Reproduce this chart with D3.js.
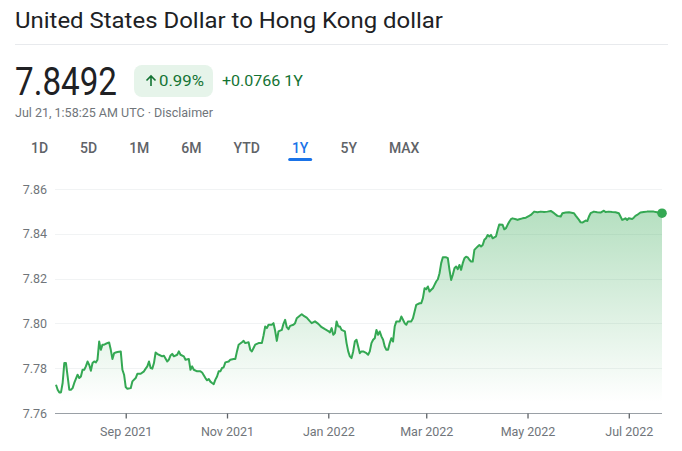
<!DOCTYPE html>
<html>
<head>
<meta charset="utf-8">
<script src="https://cdn.jsdelivr.net/npm/d3@7"></script>
<style>
  body { margin: 0; background: #fff; }
  text { font-family: Roboto, "Noto Sans", Arial, sans-serif; }
</style>
</head>
<body>
<div id="graph"></div>
<script>
!(function(){
    "use strict"

    var width = 682;
    var height = 451;

    // header texts
    var title = "United States Dollar to Hong Kong dollar";
    var price = "7.8492";
    var changePct = "0.99%";
    var changeAbs = "+0.0766 1Y";
    var stamp = "Jul 21, 1:58:25 AM UTC · Disclaimer";
    var tabs = ["1D", "5D", "1M", "6M", "YTD", "1Y", "5Y", "MAX"];
    var activeTab = "1Y";

    var yTicks = [7.76, 7.78, 7.80, 7.82, 7.84, 7.86];

    // USD/HKD
    var dates = [
        "2021-07-21","2021-07-22","2021-07-23","2021-07-24","2021-07-25","2021-07-26","2021-07-27","2021-07-28","2021-07-29","2021-07-30",
        "2021-07-31","2021-08-01","2021-08-03","2021-08-04","2021-08-05","2021-08-06","2021-08-07","2021-08-08","2021-08-09","2021-08-10",
        "2021-08-11","2021-08-12","2021-08-13","2021-08-14","2021-08-15","2021-08-16","2021-08-17","2021-08-18","2021-08-19","2021-08-20",
        "2021-08-22","2021-08-23","2021-08-24","2021-08-25","2021-08-26","2021-08-27","2021-08-29","2021-08-30","2021-08-31","2021-09-01",
        "2021-09-02","2021-09-04","2021-09-05","2021-09-07","2021-09-08","2021-09-10","2021-09-12","2021-09-13","2021-09-14","2021-09-15",
        "2021-09-16","2021-09-17","2021-09-18","2021-09-19","2021-09-20","2021-09-21","2021-09-23","2021-09-24","2021-09-26","2021-09-27",
        "2021-09-28","2021-09-29","2021-09-30","2021-10-02","2021-10-03","2021-10-04","2021-10-06","2021-10-07","2021-10-09","2021-10-10",
        "2021-10-11","2021-10-12","2021-10-14","2021-10-16","2021-10-17","2021-10-19","2021-10-20","2021-10-21","2021-10-22","2021-10-23",
        "2021-10-24","2021-10-25","2021-10-26","2021-10-27","2021-10-28","2021-10-29","2021-10-30","2021-10-31","2021-11-02","2021-11-03",
        "2021-11-05","2021-11-06","2021-11-07","2021-11-08","2021-11-10","2021-11-11","2021-11-12","2021-11-14","2021-11-15","2021-11-16",
        "2021-11-17","2021-11-18","2021-11-20","2021-11-22","2021-11-23","2021-11-24","2021-11-25","2021-11-26","2021-11-28","2021-11-29",
        "2021-11-30","2021-12-01","2021-12-02","2021-12-04","2021-12-05","2021-12-06","2021-12-07","2021-12-08","2021-12-09","2021-12-11",
        "2021-12-12","2021-12-13","2021-12-15","2021-12-16","2021-12-17","2021-12-19","2021-12-21","2021-12-22","2021-12-24","2021-12-26",
        "2021-12-28","2021-12-30","2022-01-01","2022-01-02","2022-01-03","2022-01-04","2022-01-05","2022-01-06","2022-01-07","2022-01-08",
        "2022-01-09","2022-01-11","2022-01-12","2022-01-13","2022-01-14","2022-01-15","2022-01-16","2022-01-17","2022-01-18","2022-01-19",
        "2022-01-20","2022-01-21","2022-01-22","2022-01-24","2022-01-25","2022-01-26","2022-01-27","2022-01-28","2022-01-29","2022-01-30",
        "2022-01-31","2022-02-01","2022-02-02","2022-02-03","2022-02-04","2022-02-05","2022-02-06","2022-02-07","2022-02-08","2022-02-09",
        "2022-02-10","2022-02-11","2022-02-13","2022-02-14","2022-02-15","2022-02-16","2022-02-17","2022-02-18","2022-02-20","2022-02-21",
        "2022-02-22","2022-02-23","2022-02-25","2022-02-26","2022-02-27","2022-02-28","2022-03-01","2022-03-02","2022-03-03","2022-03-04",
        "2022-03-05","2022-03-06","2022-03-07","2022-03-08","2022-03-09","2022-03-10","2022-03-11","2022-03-13","2022-03-14","2022-03-15",
        "2022-03-16","2022-03-17","2022-03-18","2022-03-19","2022-03-20","2022-03-21","2022-03-22","2022-03-23","2022-03-24","2022-03-25",
        "2022-03-26","2022-03-27","2022-03-28","2022-03-29","2022-03-30","2022-03-31","2022-04-01","2022-04-02","2022-04-03","2022-04-04",
        "2022-04-05","2022-04-06","2022-04-07","2022-04-08","2022-04-09","2022-04-10","2022-04-12","2022-04-13","2022-04-14","2022-04-16",
        "2022-04-17","2022-04-18","2022-04-19","2022-04-20","2022-04-21","2022-04-22","2022-04-24","2022-04-25","2022-04-26","2022-04-28",
        "2022-04-30","2022-05-02","2022-05-03","2022-05-05","2022-05-07","2022-05-09","2022-05-11","2022-05-13","2022-05-15","2022-05-17",
        "2022-05-19","2022-05-21","2022-05-22","2022-05-24","2022-05-26","2022-05-29","2022-05-30","2022-06-01","2022-06-02","2022-06-03",
        "2022-06-05","2022-06-06","2022-06-07","2022-06-08","2022-06-10","2022-06-12","2022-06-14","2022-06-16","2022-06-17","2022-06-19",
        "2022-06-21","2022-06-23","2022-06-25","2022-06-26","2022-06-27","2022-06-28","2022-06-29","2022-06-30","2022-07-01","2022-07-03",
        "2022-07-04","2022-07-05","2022-07-06","2022-07-08","2022-07-09","2022-07-10","2022-07-12","2022-07-14","2022-07-16","2022-07-18",
        "2022-07-21"
    ];
    var rates = [
        7.7726,7.7704,7.7692,7.7692,7.7734,7.7823,7.7823,7.7763,7.7704,7.7704,
        7.7711,7.7734,7.7771,7.7756,7.7763,7.7793,7.7793,7.7808,7.7830,7.7815,
        7.7789,7.7823,7.7830,7.7826,7.7838,7.7919,7.7882,7.7905,7.7905,7.7909,
        7.7915,7.7882,7.7841,7.7867,7.7870,7.7872,7.7875,7.7793,7.7771,7.7716,
        7.7708,7.7711,7.7741,7.7756,7.7775,7.7775,7.7786,7.7798,7.7808,7.7830,
        7.7801,7.7798,7.7823,7.7870,7.7864,7.7860,7.7853,7.7856,7.7830,7.7838,
        7.7857,7.7864,7.7853,7.7860,7.7875,7.7860,7.7853,7.7838,7.7841,7.7793,
        7.7808,7.7793,7.7786,7.7786,7.7781,7.7756,7.7746,7.7752,7.7740,7.7734,
        7.7729,7.7749,7.7763,7.7786,7.7786,7.7801,7.7804,7.7826,7.7830,7.7838,
        7.7841,7.7841,7.7875,7.7905,7.7916,7.7922,7.7912,7.7916,7.7882,7.7875,
        7.7890,7.7905,7.7912,7.7912,7.7946,7.7986,7.7979,7.7994,7.7994,7.8001,
        7.7967,7.7922,7.7964,7.7971,7.7998,7.8016,7.7983,7.7974,7.7989,7.7994,
        7.8001,7.8023,7.8035,7.8041,7.8035,7.8026,7.8009,7.8001,7.8009,7.7998,
        7.7983,7.7974,7.7966,7.7960,7.7979,7.7949,7.7957,7.8009,7.7986,7.7986,
        7.7971,7.7964,7.7912,7.7875,7.7853,7.7845,7.7875,7.7919,7.7927,7.7897,
        7.7867,7.7875,7.7875,7.7867,7.7860,7.7875,7.7912,7.7927,7.7934,7.7971,
        7.7949,7.7964,7.7942,7.7927,7.7897,7.7882,7.7882,7.7912,7.7934,7.7919,
        7.7986,7.8009,7.8009,7.8031,7.8016,7.8001,7.7994,7.8009,7.8009,7.8023,
        7.8053,7.8083,7.8090,7.8090,7.8113,7.8157,7.8153,7.8165,7.8142,7.8150,
        7.8157,7.8172,7.8187,7.8197,7.8224,7.8269,7.8295,7.8295,7.8291,7.8239,
        7.8194,7.8217,7.8246,7.8254,7.8242,7.8261,7.8239,7.8269,7.8291,7.8298,
        7.8295,7.8284,7.8276,7.8276,7.8328,7.8336,7.8343,7.8350,7.8343,7.8350,
        7.8373,7.8380,7.8395,7.8388,7.8395,7.8380,7.8388,7.8417,7.8442,7.8440,
        7.8420,7.8425,7.8440,7.8454,7.8465,7.8469,7.8465,7.8462,7.8465,7.8469,
        7.8472,7.8480,7.8484,7.8499,7.8496,7.8499,7.8497,7.8499,7.8502,7.8492,
        7.8480,7.8477,7.8492,7.8495,7.8496,7.8492,7.8481,7.8462,7.8451,7.8450,
        7.8459,7.8457,7.8477,7.8492,7.8499,7.8496,7.8495,7.8503,7.8497,7.8499,
        7.8497,7.8496,7.8492,7.8477,7.8462,7.8465,7.8469,7.8462,7.8469,7.8466,
        7.8472,7.8480,7.8484,7.8495,7.8496,7.8497,7.8499,7.8499,7.8499,7.8496,
        7.8492
    ];

    var parse = d3.timeParse("%Y-%m-%d");
    var data = dates.map(function(d, i){ return { date: parse(d), value: rates[i] }; });

    var svg = d3.select("#graph").append("svg")
        .attr("width", width)
        .attr("height", height)
        .style("display", "block");

    // ---- header ----
    svg.append("text")
        .attr("x", 15).attr("y", 28)
        .attr("font-size", 22)
        .attr("fill", "#202124")
        .attr("textLength", 428).attr("lengthAdjust", "spacingAndGlyphs")
        .text(title);

    svg.append("line")
        .attr("x1", 15).attr("x2", 668)
        .attr("y1", 44.5).attr("y2", 44.5)
        .attr("stroke", "#e8eaed");

    svg.append("text")
        .attr("x", 15).attr("y", 95)
        .attr("font-size", 38)
        .attr("fill", "#202124")
        .attr("textLength", 102).attr("lengthAdjust", "spacingAndGlyphs")
        .text(price);

    svg.append("rect")
        .attr("x", 134).attr("y", 65)
        .attr("width", 79).attr("height", 32)
        .attr("rx", 8)
        .attr("fill", "#e6f4ea");

    // up arrow
    svg.append("path")
        .attr("d", "M151,86 V76 M146.5,80.5 L151,76 L155.5,80.5")
        .attr("fill", "none")
        .attr("stroke", "#137333")
        .attr("stroke-width", 1.6);

    svg.append("text")
        .attr("x", 159).attr("y", 86)
        .attr("font-size", 15)
        .attr("fill", "#137333")
        .attr("textLength", 45).attr("lengthAdjust", "spacingAndGlyphs")
        .text(changePct);

    svg.append("text")
        .attr("x", 222).attr("y", 86)
        .attr("font-size", 15)
        .attr("fill", "#137333")
        .attr("textLength", 81).attr("lengthAdjust", "spacingAndGlyphs")
        .text(changeAbs);

    svg.append("text")
        .attr("x", 15).attr("y", 117)
        .attr("font-size", 12.5)
        .attr("fill", "#70757a")
        .attr("textLength", 198).attr("lengthAdjust", "spacingAndGlyphs")
        .text(stamp);

    // tabs: each one is its text width plus a fixed padding
    var tabPad = 32;
    var tabText = svg.append("g").selectAll("text")
        .data(tabs)
        .enter().append("text")
        .attr("y", 153)
        .attr("text-anchor", "middle")
        .attr("font-size", 14)
        .attr("font-weight", 500)
        .attr("fill", function(d){ return d === activeTab ? "#1a73e8" : "#5f6368"; })
        .text(function(d){ return d; });
    var cursor = 39.5, prevW = null, tabCenters = {};
    tabText.each(function(d){
        var w = this.getComputedTextLength();
        if (prevW !== null) cursor += (prevW + w) / 2 + tabPad;
        tabCenters[d] = cursor;
        prevW = w;
    });
    tabText.attr("x", function(d){ return tabCenters[d]; });

    svg.append("rect")
        .attr("x", tabCenters[activeTab] - 12).attr("y", 158)
        .attr("width", 24).attr("height", 3)
        .attr("rx", 1.5)
        .attr("fill", "#1a73e8");

    // ---- chart ----
    var x = d3.scaleTime()
        .domain([parse("2021-07-21"), parse("2022-07-21")])
        .range([56, 662]);
    var y = d3.scaleLinear()
        .domain([7.76, 7.86])
        .range([413, 189]);

    var defs = svg.append("defs");
    var grad = defs.append("linearGradient")
        .attr("id", "fade")
        .attr("gradientUnits", "userSpaceOnUse")
        .attr("x1", 0).attr("x2", 0)
        .attr("y1", y(7.85)).attr("y2", y(7.765));
    grad.append("stop").attr("offset", 0).attr("stop-color", "#34a853").attr("stop-opacity", 0.36);
    grad.append("stop").attr("offset", 1).attr("stop-color", "#34a853").attr("stop-opacity", 0);

    // gridlines
    svg.append("g")
        .selectAll("line")
        .data(yTicks.slice(1))
        .enter().append("line")
        .attr("x1", 55).attr("x2", 662)
        .attr("y1", function(d){ return Math.round(y(d)) + 0.5; })
        .attr("y2", function(d){ return Math.round(y(d)) + 0.5; })
        .attr("stroke", "#f1f3f4");

    // y labels
    var yAxis = svg.append("g")
        .attr("transform", "translate(47,0)")
        .call(d3.axisLeft(y).tickValues(yTicks).tickFormat(d3.format(".2f")).tickSize(0).tickPadding(0));
    yAxis.select(".domain").remove();
    yAxis.selectAll("text")
        .attr("font-size", 12.5)
        .attr("font-family", "Roboto, Arial, sans-serif")
        .attr("fill", "#70757a");

    var area = d3.area()
        .x(function(d){ return x(d.date); })
        .y0(y(7.76))
        .y1(function(d){ return y(d.value); });

    var line = d3.line()
        .x(function(d){ return x(d.date); })
        .y(function(d){ return y(d.value); });

    svg.append("path")
        .datum(data)
        .attr("d", area)
        .attr("fill", "url(#fade)");

    // x axis
    var xAxis = svg.append("g")
        .attr("transform", "translate(0," + (Math.round(y(7.76)) + 0.5) + ")")
        .call(d3.axisBottom(x)
            .ticks(d3.timeMonth.every(2))
            .tickFormat(d3.timeFormat("%b %Y"))
            .tickSize(5)
            .tickPadding(9)
            .tickSizeOuter(0));
    xAxis.select(".domain")
        .attr("d", "M55,0H662")
        .attr("stroke", "#9aa0a6");
    xAxis.selectAll(".tick line")
        .attr("stroke", "#5f6368")
        .attr("stroke-width", 1.3);
    xAxis.selectAll("text")
        .attr("font-size", 12.5)
        .attr("font-family", "Roboto, Arial, sans-serif")
        .attr("fill", "#70757a");

    svg.append("path")
        .datum(data)
        .attr("d", line)
        .attr("fill", "none")
        .attr("stroke", "#34a853")
        .attr("stroke-width", 2)
        .attr("stroke-linejoin", "round");

    var last = data[data.length - 1];
    svg.append("circle")
        .attr("cx", x(last.date))
        .attr("cy", y(last.value))
        .attr("r", 4.8)
        .attr("fill", "#34a853");

}());
</script>
</body>
</html>
